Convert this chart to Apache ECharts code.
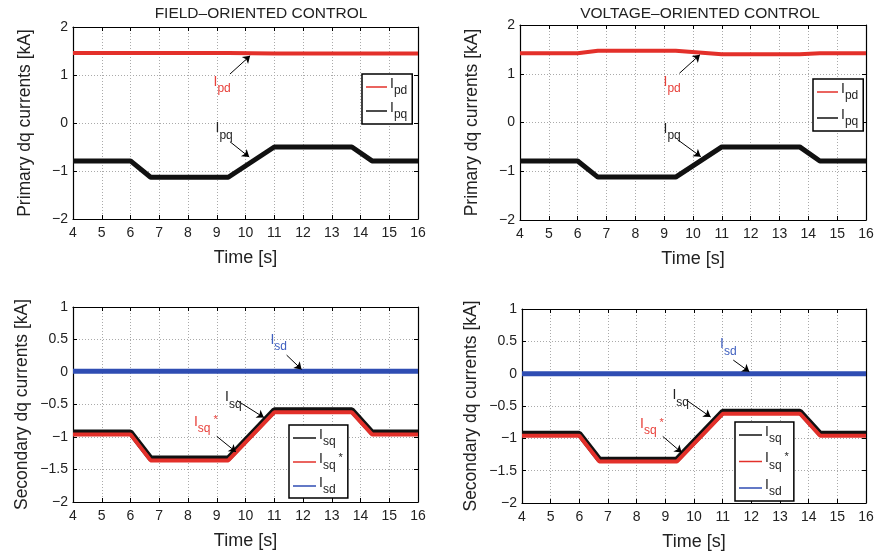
<!DOCTYPE html>
<html><head><meta charset="utf-8">
<script src="https://cdn.jsdelivr.net/npm/echarts@6/dist/echarts.min.js"></script>
<style>html,body{margin:0;padding:0;background:#fff}#c{width:880px;height:557px}</style>
</head><body><div id="c"></div>
<script>
// ---------- data ----------
const time = [4, 6, 6.7, 9.4, 11, 13.7, 14.4, 16];
const xTicks = [4, 5, 6, 7, 8, 9, 10, 11, 12, 13, 14, 15, 16];
const topYTicks = [-2, -1, 0, 1, 2];
const botYTicks = [-2, -1.5, -1, -0.5, 0, 0.5, 1];

const focIpd = [1.46, 1.46, 1.46, 1.46, 1.45, 1.45, 1.45, 1.45];
const focIpq = [-0.79, -0.79, -1.13, -1.13, -0.50, -0.50, -0.79, -0.79];
const vocIpd = [1.42, 1.42, 1.47, 1.47, 1.40, 1.40, 1.42, 1.42];
const vocIpq = [-0.79, -0.79, -1.12, -1.12, -0.50, -0.50, -0.79, -0.79];

const focIsq = [-0.93, -0.93, -1.33, -1.33, -0.59, -0.59, -0.93, -0.93];
const focIsqRef = [-0.96, -0.96, -1.36, -1.36, -0.62, -0.62, -0.96, -0.96];
const focIsd = [0.01, 0.01, 0.01, 0.01, 0.01, 0.01, 0.01, 0.01];
const vocIsq = [-0.93, -0.93, -1.33, -1.33, -0.59, -0.59, -0.93, -0.93];
const vocIsqRef = [-0.96, -0.96, -1.36, -1.36, -0.62, -0.62, -0.96, -0.96];
const vocIsd = [0.0, 0.0, 0.0, 0.0, 0.0, 0.0, 0.0, 0.0];

// annotations in data coordinates: label anchor, arrow start, arrow end
const annTL = [
  {txt: 'pd', col: '#e8403a', at: [8.87, 0.77], from: [9.46, 1.02], to: [10.16, 1.40]},
  {txt: 'pq', col: '#222', at: [8.94, -0.20], from: [9.46, -0.39], to: [10.13, -0.71]}
];
const annTR = [
  {txt: 'pd', col: '#e8403a', at: [8.96, 0.75], from: [9.53, 1.01], to: [10.24, 1.39]},
  {txt: 'pq', col: '#222', at: [8.96, -0.21], from: [9.46, -0.35], to: [10.27, -0.70]}
];
const annBL = [
  {txt: 'sd', col: '#3f5fbf', at: [10.85, 0.43], from: [11.43, 0.26], to: [11.95, 0.04]},
  {txt: 'sq', col: '#222', at: [9.27, -0.45], from: [9.71, -0.44], to: [10.64, -0.70]},
  {txt: 'sq', star: true, col: '#e8403a', at: [8.19, -0.83], from: [9.0, -0.99], to: [9.67, -1.23]}
];
const annBR = [
  {txt: 'sd', col: '#3f5fbf', at: [10.89, 0.39], from: [11.37, 0.21], to: [11.93, 0.03]},
  {txt: 'sq', col: '#222', at: [9.23, -0.40], from: [9.74, -0.41], to: [10.58, -0.67]},
  {txt: 'sq', star: true, col: '#e8403a', at: [8.10, -0.84], from: [8.91, -0.97], to: [9.57, -1.22]}
];

// ---------- styling ----------
const FONT = 'Liberation Sans, Arial, Helvetica, sans-serif';
const RED = '#e3302a', BLACK = '#111', BLUE = '#2f4db3';
const pts = arr => time.map((t, i) => [t, arr[i]]);
const minus = v => String(v).replace('-', '\u2212');

function rich(col) {
  return {
    I: {fontSize: 14, lineHeight: 14, verticalAlign: 'top', color: col, fontFamily: FONT},
    s: {fontSize: 12, lineHeight: 20, verticalAlign: 'bottom', color: col, fontFamily: FONT},
    st: {fontSize: 11, lineHeight: 12, verticalAlign: 'top', color: col, fontFamily: FONT, padding: [0, 0, 0, 3]}
  };
}
const fmt = (sub, star) => '{I|I}{s|' + sub + '}' + (star ? '{st|*}' : '');

const grids = [
  {left: 73, top: 27, width: 345, height: 192},
  {left: 520, top: 25, width: 346, height: 195},
  {left: 73, top: 307, width: 345, height: 195},
  {left: 522, top: 309, width: 344, height: 194}
];

const xAxis = [], yAxis = [];
grids.forEach((g, i) => {
  const top = i < 2;
  xAxis.push({
    gridIndex: i, type: 'value', min: 4, max: 16, interval: 1, position: 'bottom',
    name: 'Time [s]', nameLocation: 'middle', nameGap: 30,
    nameTextStyle: {fontSize: 18, color: '#222', fontFamily: FONT},
    axisLine: {show: true, onZero: false, lineStyle: {color: '#000', width: 1.2}},
    axisTick: {inside: true, length: 4, lineStyle: {color: '#000'}},
    axisLabel: {fontSize: 14, color: '#222', margin: 7, fontFamily: FONT, formatter: v => minus(v)},
    splitLine: {show: true, lineStyle: {color: '#aaa', type: [1, 2], width: 1}}
  });
  xAxis.push({
    gridIndex: i, type: 'value', min: 4, max: 16, interval: 1, position: 'top',
    axisLine: {show: true, onZero: false, lineStyle: {color: '#000', width: 1.2}},
    axisTick: {inside: true, length: 4, lineStyle: {color: '#000'}},
    axisLabel: {show: false}, splitLine: {show: false}
  });
  const yb = top ? {min: -2, max: 2, interval: 1} : {min: -2, max: 1, interval: 0.5};
  yAxis.push(Object.assign({
    gridIndex: i, type: 'value', position: 'left',
    name: top ? 'Primary dq currents [kA]' : 'Secondary dq currents [kA]',
    nameLocation: 'middle', nameGap: top ? 39 : 42,
    nameTextStyle: {fontSize: 17.5, color: '#222', fontFamily: FONT},
    axisLine: {show: true, onZero: false, lineStyle: {color: '#000', width: 1.2}},
    axisTick: {inside: true, length: 4, lineStyle: {color: '#000'}},
    axisLabel: {fontSize: 14, color: '#222', margin: 5, fontFamily: FONT, formatter: v => minus(v)},
    splitLine: {show: true, lineStyle: {color: '#aaa', type: [1, 2], width: 1}}
  }, yb));
  yAxis.push(Object.assign({
    gridIndex: i, type: 'value', position: 'right',
    axisLine: {show: true, onZero: false, lineStyle: {color: '#000', width: 1.2}},
    axisTick: {inside: true, length: 4, lineStyle: {color: '#000'}},
    axisLabel: {show: false}, splitLine: {show: false}
  }, yb));
});

function annotations(list) {
  return {
    markLine: {
      silent: true, symbol: ['none', 'arrow'], symbolSize: 7, animation: false,
      label: {show: false},
      lineStyle: {color: '#000', width: 1, type: 'solid'},
      data: list.map(a => [{coord: a.from}, {coord: a.to}])
    },
    markPoint: {
      silent: true, animation: false,
      data: list.map(a => ({
        coord: a.at, symbol: 'circle', symbolSize: 1,
        itemStyle: {color: 'rgba(0,0,0,0)'},
        label: {show: true, position: 'right', distance: 0, offset: [0, -1],
          formatter: fmt(a.txt, a.star), rich: rich(a.col)}
      }))
    }
  };
}

function line(name, data, xi, yi, color, width, z, extra) {
  return Object.assign({
    name: name, type: 'line', xAxisIndex: xi, yAxisIndex: yi, data: pts(data),
    symbol: 'none', animation: false, z: z,
    lineStyle: {color: color, width: width}, itemStyle: {color: color}
  }, extra || {});
}

const series = [
  line('focIpq', focIpq, 0, 0, BLACK, 5, 2),
  line('focIpd', focIpd, 0, 0, RED, 4, 3, annotations(annTL)),
  line('vocIpq', vocIpq, 2, 2, BLACK, 5, 2),
  line('vocIpd', vocIpd, 2, 2, RED, 4, 3, annotations(annTR)),
  line('focIsd', focIsd, 4, 4, BLUE, 5, 2),
  line('focIsq', focIsq, 4, 4, BLACK, 6, 3),
  line('focIsqRef', focIsqRef, 4, 4, RED, 4, 4, annotations(annBL)),
  line('vocIsd', vocIsd, 6, 6, BLUE, 5, 2),
  line('vocIsq', vocIsq, 6, 6, BLACK, 6, 3),
  line('vocIsqRef', vocIsqRef, 6, 6, RED, 4, 4, annotations(annBR))
];

const legendText = {
  focIpd: fmt('pd'), focIpq: fmt('pq'), vocIpd: fmt('pd'), vocIpq: fmt('pq'),
  focIsq: fmt('sq'), focIsqRef: fmt('sq', true), focIsd: fmt('sd'),
  vocIsq: fmt('sq'), vocIsqRef: fmt('sq', true), vocIsd: fmt('sd')
};
function legend(names, left, top, iw, gap, padB) {
  return {
    data: names, orient: 'vertical', left: left, top: top,
    icon: 'rect', itemWidth: iw, itemHeight: 1.5, itemGap: gap,
    padding: [3, 5, padB, 4], backgroundColor: '#fff',
    borderColor: '#000', borderWidth: 1.5, borderRadius: 0,
    selectedMode: false,
    formatter: n => legendText[n],
    textStyle: {color: '#222', rich: rich('#222'), padding: [0, 0, 0, -2]}
  };
}

const option = {
  backgroundColor: '#fff',
  animation: false,
  grid: grids.map(g => Object.assign({show: false}, g)),
  xAxis: xAxis, yAxis: yAxis,
  legend: [
    legend(['focIpd', 'focIpq'], 362, 74, 21, 4, 3),
    legend(['vocIpd', 'vocIpq'], 813, 79, 21, 6, 3),
    legend(['focIsq', 'focIsqRef', 'focIsd'], 289, 425, 23, 4, 2),
    legend(['vocIsq', 'vocIsqRef', 'vocIsd'], 735, 422, 23, 6.5, 3)
  ],
  graphic: [
    {type: 'text', x: 261, y: 6, style: {text: 'FIELD\u2013ORIENTED CONTROL', fill: '#222', font: '15.5px ' + FONT, textAlign: 'center'}},
    {type: 'text', x: 700, y: 6, style: {text: 'VOLTAGE\u2013ORIENTED CONTROL', fill: '#222', font: '15.5px ' + FONT, textAlign: 'center'}}
  ],
  series: series
};

const chart = echarts.init(document.getElementById('c'), null, {renderer: 'canvas'});
chart.setOption(option);
</script>
</body></html>
